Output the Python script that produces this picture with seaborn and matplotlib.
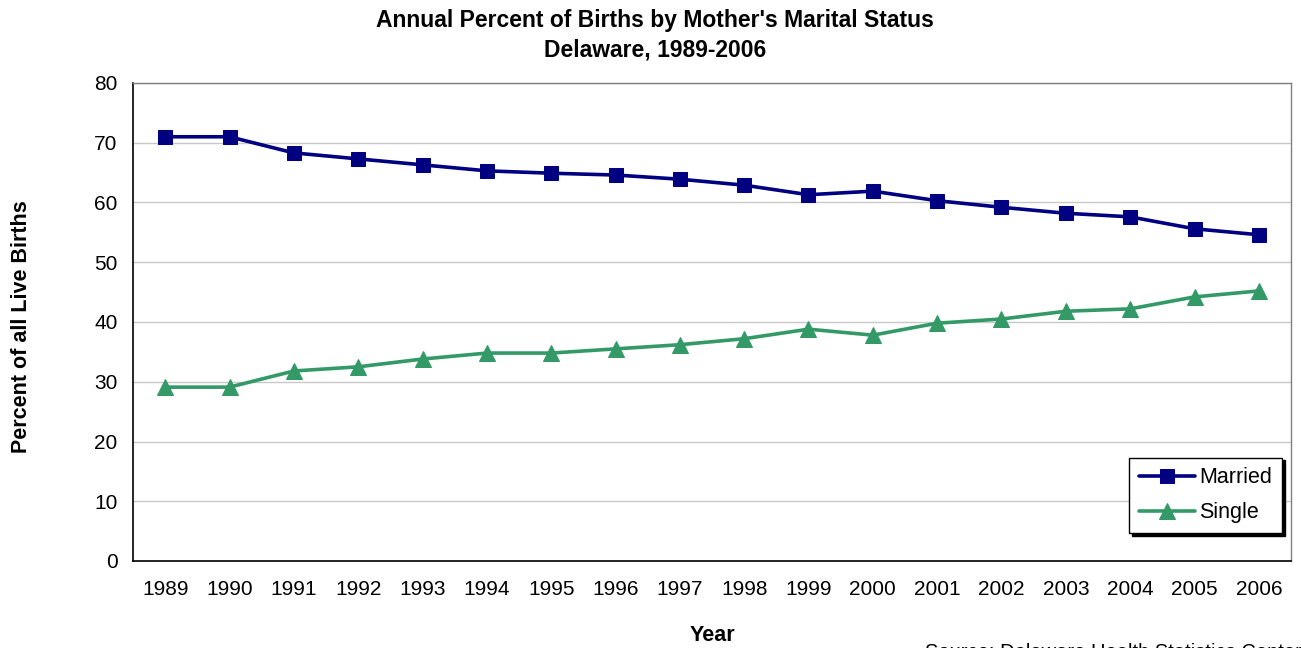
import matplotlib
matplotlib.use("Agg")
import matplotlib.pyplot as plt
import seaborn as sns
import pandas as pd
import numpy as np

years = ["1989", "1990", "1991", "1992", "1993", "1994", "1995", "1996", "1997",
         "1998", "1999", "2000", "2001", "2002", "2003", "2004", "2005", "2006"]
married = [71.0, 71.0, 68.3, 67.3, 66.3, 65.3, 64.9, 64.6, 63.9,
           62.9, 61.3, 61.9, 60.3, 59.2, 58.2, 57.6, 55.6, 54.6]
single = [29.1, 29.1, 31.8, 32.5, 33.8, 34.8, 34.8, 35.5, 36.2,
          37.2, 38.8, 37.8, 39.8, 40.5, 41.8, 42.2, 44.2, 45.2]

sns.set_style("white")
plt.rcParams['font.family'] = ['Liberation Sans', 'DejaVu Sans']
plt.rcParams['text.color'] = 'black'
plt.rcParams['axes.labelcolor'] = 'black'
plt.rcParams['xtick.color'] = 'black'
plt.rcParams['ytick.color'] = 'black'

fig = plt.figure(figsize=(13.01, 6.48), dpi=100)
ax = fig.add_axes([133/1301, 1-561/648, (1291-133)/1301, (561-83)/648])

idx = np.arange(len(years))
df = pd.DataFrame({"x": idx, "Married": married, "Single": single})

sns.lineplot(data=df, x="x", y="Married", ax=ax, color="#000080", lw=2.6,
             marker="s", markersize=10, markeredgecolor="#000080", label="Married")
sns.lineplot(data=df, x="x", y="Single", ax=ax, color="#339966", lw=2.6,
             marker="^", markersize=11, markeredgecolor="#339966", label="Single")

ax.set_xlim(-0.5, len(years) - 0.5)
ax.set_ylim(0, 80)
ax.set_yticks(range(0, 81, 10))
ax.set_xticks(idx)
ax.set_xticklabels(years)
ax.set_xticks(np.arange(-0.5, len(years), 1), minor=True)
ax.tick_params(axis='x', which='major', length=0, pad=14, labelsize=15)
ax.tick_params(axis='x', which='minor', length=5, width=1, color='black', direction='out')
ax.tick_params(axis='y', length=5, width=1, color='black', direction='out', pad=6, labelsize=15)
ax.grid(axis='y', color='#c8c8c8', lw=1)
ax.set_axisbelow(True)

for s in ['left', 'bottom']:
    ax.spines[s].set_color('black')
    ax.spines[s].set_linewidth(1.2)
for s in ['top', 'right']:
    ax.spines[s].set_color('#808080')
    ax.spines[s].set_linewidth(1.0)

ax.set_xlabel("Year", fontsize=15.5, fontweight='bold')
ax.set_ylabel("Percent of all Live Births", fontsize=15.5, fontweight='bold')
ax.yaxis.set_label_coords(-(133-32)/1158, 0.49)
ax.xaxis.set_label_coords(0.5, -(625-561)/478)

leg = ax.legend(loc='lower right', bbox_to_anchor=((1282-133)/1158, (561-533)/478),
                fontsize=15.5, frameon=True, fancybox=False, edgecolor='black',
                framealpha=1, shadow={'color': 'black', 'alpha': 1},
                handlelength=2.6, borderpad=0.45, labelspacing=0.65, handletextpad=0.2,
                borderaxespad=0)
leg.get_frame().set_linewidth(1.0)

fig.text(655/1301, 1-9/648, "Annual Percent of Births by Mother's Marital Status\nDelaware, 1989-2006",
         ha='center', va='top', fontsize=16.5, fontweight='bold', linespacing=1.38)
fig.text(925/1301, 1-643/648, "Source: Delaware Health Statistics Center",
         ha='left', va='top', fontsize=14.5)

fig.savefig("out.png", dpi=100)
